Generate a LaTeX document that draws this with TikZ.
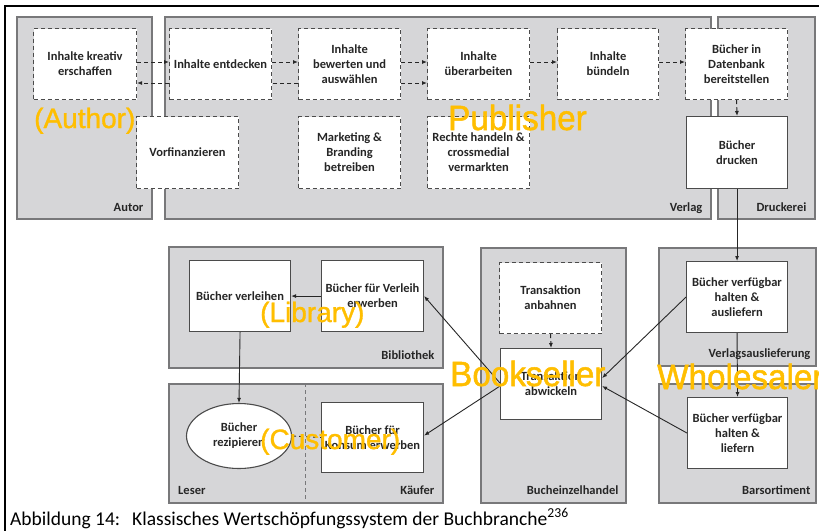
\documentclass[tikz,border=0pt]{standalone}
\usepackage{fontspec}
\setmainfont{Carlito}
\newfontfamily\notefont[FakeBold=1.2]{Liberation Sans}
\newfontfamily\bignotefont[FakeStretch=0.95,FakeBold=1.4]{Liberation Sans}
\usetikzlibrary{arrows.meta,shapes.geometric}
\definecolor{stagefill}{RGB}{214,214,216}
\definecolor{stageline}{RGB}{120,120,122}
\definecolor{boxline}{RGB}{75,75,75}
\definecolor{inktext}{RGB}{38,38,38}
\definecolor{noteorange}{RGB}{255,190,0}
\tikzset{
  stage/.style={rectangle, draw=stageline, fill=stagefill, line width=1.6pt, anchor=north west, inner sep=0pt},
  act/.style={rectangle, draw=boxline, fill=white, line width=1.1pt, anchor=north west, inner sep=0pt, align=center, text=inktext, font=\bfseries\fontsize{12.5}{15}\selectfont},
  optact/.style={act, dash pattern=on 4pt off 3pt},
  stagename/.style={inner sep=0pt, text=inktext, font=\bfseries\fontsize{12.5}{14}\selectfont},
  flow/.style={draw=black!85, line width=0.9pt, -{Latex[length=5pt,width=4pt]}},
  optflow/.style={flow, dash pattern=on 4pt off 3pt},
  optline/.style={draw=black!85, line width=0.9pt, dash pattern=on 4pt off 3pt},
  note/.style={inner sep=0pt, anchor=base west, text=noteorange, font=\notefont\fontsize{28}{30}\selectfont},
  bignote/.style={note, font=\bignotefont\fontsize{35}{37}\selectfont},
}
\begin{document}
\begin{tikzpicture}[x=1pt,y=-1pt]
        \useasboundingbox (0,0) rectangle (819,531);
        
        % Drawing the outer frame
        \draw [line width=2pt] (819,6) -- (5,6) -- (5,531);%
        
        % Drawing the grey stages
        \node [stage, minimum width=135pt, minimum height=202pt] (autor) at (16,16) {};%
        \node [stage, minimum width=546pt, minimum height=202pt] (verlag) at (164,16) {};%
        \node [stage, minimum width=97pt, minimum height=202pt] (druckerei) at (717,16) {};%
        \node [stage, minimum width=274pt, minimum height=121pt] (bibliothek) at (168,246) {};%
        \node [stage, minimum width=274pt, minimum height=119pt] (leserkaeufer) at (168,383) {};%
        \node [stage, minimum width=145pt, minimum height=255pt] (bucheinzel) at (480,247) {};%
        \node [stage, minimum width=157pt, minimum height=118pt] (verlagsausl) at (658,247) {};%
        \node [stage, minimum width=157pt, minimum height=119pt] (barsortiment) at (658,383) {};%
        \draw [stageline, line width=1pt, dash pattern=on 4pt off 3pt] (leserkaeufer.north) -- (leserkaeufer.south);%
        
        % Naming the stages
        \node [stagename, anchor=base east] (autorname) at ([xshift=-9pt,yshift=8pt]autor.south east) {Autor};%
        \node [stagename, anchor=base east] (verlagname) at ([xshift=-9pt,yshift=8pt]verlag.south east) {Verlag};%
        \node [stagename, anchor=base east] (druckereiname) at ([xshift=-9pt,yshift=8pt]druckerei.south east) {Druckerei};%
        \node [stagename, anchor=base east] (bibliothekname) at ([xshift=-9pt,yshift=9pt]bibliothek.south east) {Bibliothek};%
        \node [stagename, anchor=base east] (kaeufername) at ([xshift=-9pt,yshift=9pt]leserkaeufer.south east) {Käufer};%
        \node [stagename, anchor=base west] (lesername) at ([xshift=10pt,yshift=9pt]leserkaeufer.south west) {Leser};%
        \node [stagename, anchor=base east] (bucheinzelname) at ([xshift=-8pt,yshift=9pt]bucheinzel.south east) {Bucheinzelhandel};%
        \node [stagename, anchor=base east] (verlagsauslname) at ([xshift=-6pt,yshift=9pt]verlagsausl.south east) {Verlagsauslieferung};%
        \node [stagename, anchor=base east] (barsortimentname) at ([xshift=-6pt,yshift=9pt]barsortiment.south east) {Barsortiment};%
        
        % Drawing the activities of the upper row
        \node [optact, minimum width=103pt, minimum height=71pt] (kreativ) at (33,28) {Inhalte kreativ\\erschaffen};%
        \node [optact, minimum width=102pt, minimum height=71pt] (entdecken) at (169,28) {Inhalte entdecken};%
        \node [optact, minimum width=102pt, minimum height=71pt] (bewerten) at (298,28) {Inhalte\\bewerten und\\auswählen};%
        \node [optact, minimum width=102pt, minimum height=71pt] (ueberarbeiten) at (427,28) {Inhalte\\überarbeiten};%
        \node [optact, minimum width=101pt, minimum height=71pt] (buendeln) at (557,28) {Inhalte\\bündeln};%
        \node [optact, minimum width=102pt, minimum height=71pt] (datenbank) at (685,28) {Bücher in\\Datenbank\\bereitstellen};%
        \node [optact, minimum width=102pt, minimum height=72pt] (vorfinanzieren) at (136,116) {Vorfinanzieren};%
        \node [optact, minimum width=102pt, minimum height=72pt] (marketing) at (298,116) {Marketing \&\\Branding\\betreiben};%
        \node [optact, minimum width=102pt, minimum height=72pt] (rechte) at (427,116) {Rechte handeln \&\\crossmedial\\vermarkten};%
        \node [act, minimum width=101pt, minimum height=72pt] (drucken) at (686,116) {Bücher\\drucken};%
        
        % Drawing the activities of the lower rows
        \node [act, minimum width=101pt, minimum height=71pt] (verleihen) at (189,260) {Bücher verleihen};%
        \node [act, minimum width=102pt, minimum height=71pt] (verleiherwerben) at (321,260) {Bücher für Verleih\\erwerben};%
        \node [act, ellipse, anchor=center, minimum width=105pt, minimum height=65pt] (rezipieren) at (239,436) {Bücher\\rezipieren};%
        \node [act, minimum width=102pt, minimum height=70pt] (konsum) at (321,402) {Bücher für\\Konsum erwerben};%
        \node [optact, minimum width=102pt, minimum height=71pt] (anbahnen) at (499,262) {Transaktion\\anbahnen};%
        \node [act, minimum width=101pt, minimum height=71pt] (abwickeln) at (500,348) {Transaktion\\abwickeln};%
        \node [act, minimum width=101pt, minimum height=71pt] (ausliefern) at (686,261) {Bücher verfügbar\\halten \&\\ausliefern};%
        \node [act, minimum width=100pt, minimum height=71pt] (liefern) at (687,397) {Bücher verfügbar\\halten \&\\liefern};%
        
        % Drawing the dashed flows of the upper row
        \coordinate (upper) at (0,62);%
        \coordinate (lower) at (0,83);%
        \draw [optflow] (kreativ.east |- upper) -- (entdecken.west |- upper);%
        \draw [optflow] (entdecken.west |- lower) -- (kreativ.east |- lower);%
        \draw [optflow] (entdecken.east |- upper) -- (bewerten.west |- upper);%
        \draw [optline] (bewerten.west |- lower) -- (entdecken.east |- lower);%
        \draw [optflow] (bewerten.east |- upper) -- (ueberarbeiten.west |- upper);%
        \draw [optflow] (bewerten.east |- lower) -- (ueberarbeiten.west |- lower);%
        \draw [optflow] (ueberarbeiten.east |- upper) -- (buendeln.west |- upper);%
        \draw [optflow] (buendeln.east |- upper) -- (datenbank.west |- upper);%
        \draw [optflow] (datenbank.south) -- (drucken.north);%
        
        % Drawing the flows of the books
        \draw [flow] (drucken.south) -- (ausliefern.north);%
        \draw [flow] (ausliefern.south) -- (liefern.north);%
        \draw [flow] (ausliefern.west) -- ([yshift=6pt]abwickeln.east);%
        \draw [flow] (liefern.west) -- ([yshift=-2pt]abwickeln.east);%
        \draw [optflow] (anbahnen.south) -- (abwickeln.north);%
        \draw [flow] ([yshift=1pt]abwickeln.west) -- (verleiherwerben.east);%
        \draw [flow] ([yshift=-2pt]abwickeln.west) -- ([yshift=2pt]konsum.east);%
        \draw [flow] (verleiherwerben.west) -- (verleihen.east);%
        \draw [flow] (verleihen.south) -- (rezipieren.north);%
        \draw [optline] (rezipieren.east) -- (konsum.west);%
        
        % Writing the orange notes
        \node [note] (authornote) at (34,128) {(Author)};%
        \node [bignote] (publishernote) at (448,130) {Publisher};%
        \node [note] (librarynote) at (260,322) {(Library)};%
        \node [note] (customernote) at (260,449) {(Customer)};%
        \node [bignote] (booksellernote) at (450,386) {Bookseller};%
        \node [bignote] (wholesalernote) at (657,389) {Wholesaler};%
        
        % Writing the caption
        \node [anchor=base west, inner sep=0pt, font=\fontsize{19.5}{22}\selectfont] (caption) at (10,525) {Abbildung 14:\hspace{12pt}Klassisches Wertschöpfungssystem der Buchbranche\textsuperscript{236}};%
\end{tikzpicture}
\end{document}
